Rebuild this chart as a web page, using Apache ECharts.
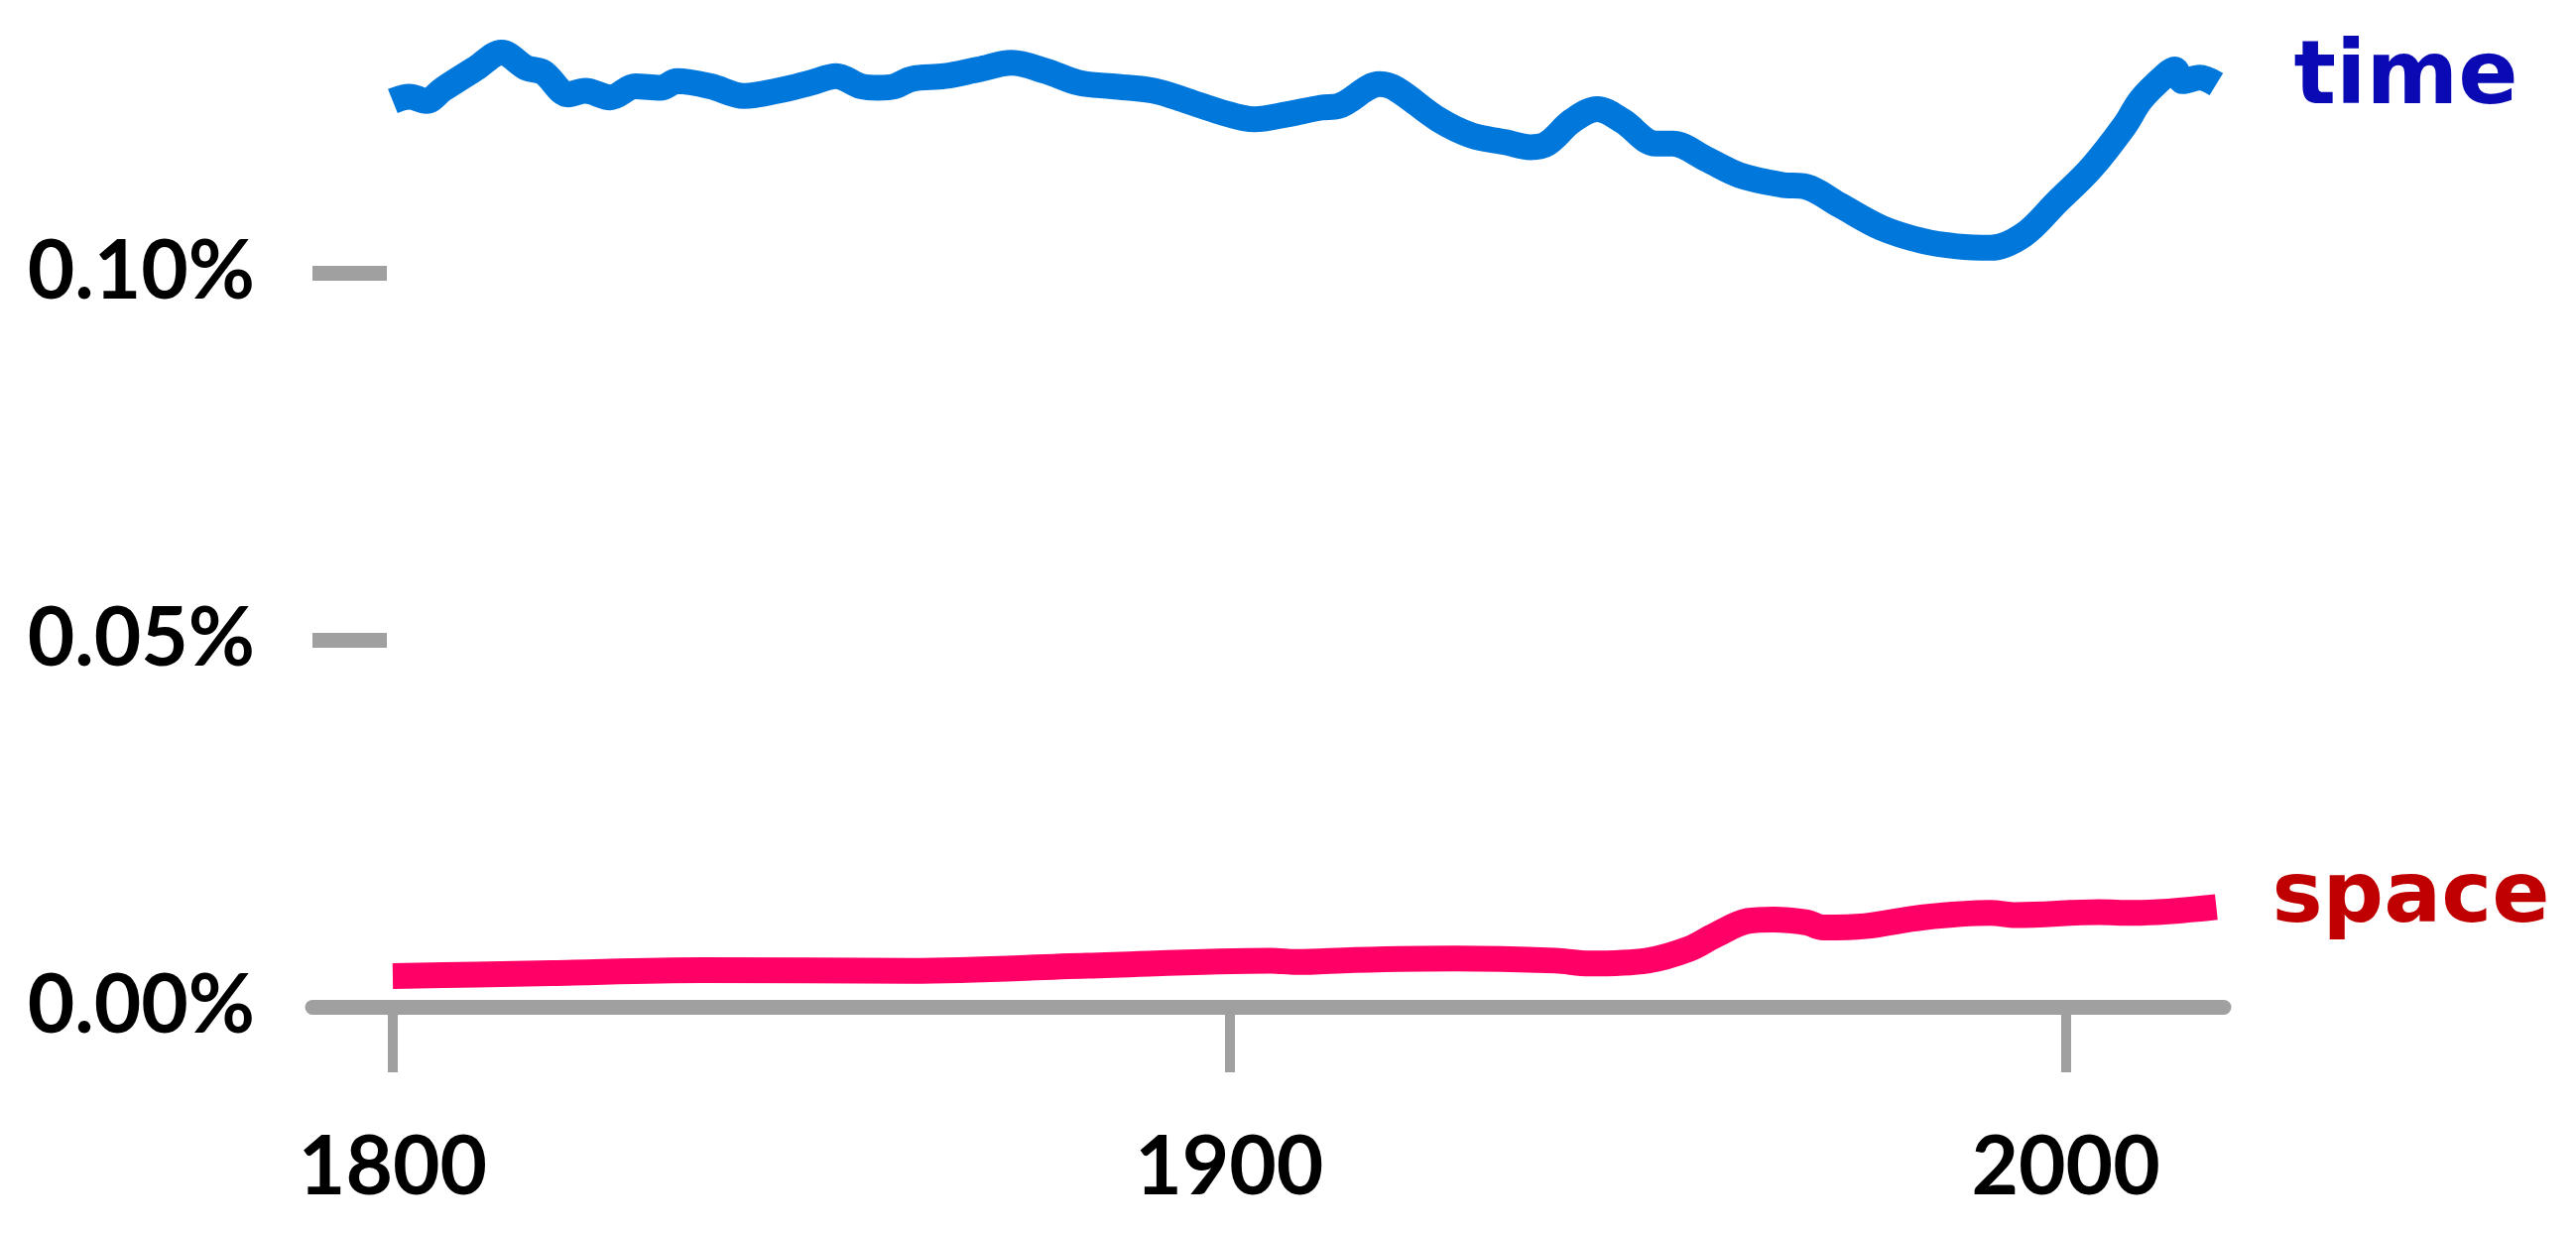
<!DOCTYPE html>
<html>
<head>
<meta charset="utf-8">
<script src="https://cdn.jsdelivr.net/npm/echarts@6/dist/echarts.min.js"></script>
<style>
html,body{margin:0;padding:0;background:#fff;}
#chart{width:2597px;height:1244px;}
</style>
</head>
<body>
<div id="chart"></div>
<script>
// ---- data (percent of words) ----
const timeYears = [1800,1802,1804,1806,1810,1813,1816,1818,1821,1823,1826,1829,1832,1834,1838,1842,1846,1850,1853,1856,1858,1860,1862,1866,1870,1874,1878,1882,1886,1891,1895,1899,1903,1907,1911,1913,1918,1920,1925,1929,1933,1936,1938,1941,1944,1947,1951,1953,1957,1961,1966,1969,1973,1978,1983,1987,1991,1995,1999,2003,2007,2009,2012,2013,2014,2016,2018];
const timeValues = [0.1234,0.1240,0.1234,0.1250,0.1279,0.1300,0.1279,0.1273,0.1243,0.1248,0.1239,0.1254,0.1252,0.1261,0.1254,0.1241,0.1248,0.1259,0.1268,0.1254,0.1252,0.1254,0.1264,0.1268,0.1277,0.1286,0.1275,0.1259,0.1254,0.1248,0.1234,0.1219,0.1209,0.1216,0.1225,0.1227,0.1257,0.1250,0.1209,0.1187,0.1178,0.1171,0.1176,0.1207,0.1223,0.1207,0.1176,0.1176,0.1155,0.1133,0.1120,0.1117,0.1092,0.1061,0.1043,0.1036,0.1034,0.1052,0.1097,0.1142,0.1200,0.1236,0.1270,0.1277,0.1261,0.1266,0.1257];
const spaceYears = [1800,1810,1819,1837,1862,1883,1905,1908,1915,1927,1939,1943,1950,1955,1958,1962,1965,1969,1971,1976,1983,1991,1994,2004,2008,2018];
const spaceValues = [0.0042,0.0044,0.0046,0.0050,0.0049,0.0056,0.0063,0.0061,0.0064,0.0066,0.0063,0.0059,0.0063,0.0079,0.0097,0.0117,0.0119,0.0115,0.0108,0.0110,0.0122,0.0128,0.0125,0.0129,0.0128,0.0136];
const xTickValues = [1800, 1900, 2000];
const yTickValues = [0, 0.05, 0.10];
const seriesNames = ['time', 'space'];

const pair = (xs, ys) => xs.map((x, i) => [x, ys[i]]);

const chart = echarts.init(document.getElementById('chart'), null, {renderer: 'canvas'});
const axisGray = '#a0a0a0';
const labelFont = {fontFamily: 'Lato', fontWeight: 700, fontSize: 82, color: '#000'};

chart.setOption({
  animation: false,
  backgroundColor: '#fff',
  grid: {left: 315, right: 355, top: 16, bottom: 229, containLabel: false},
  xAxis: {
    type: 'value', min: 1790.4, max: 2018.9,
    splitLine: {show: false},
    axisLine: {show: true, lineStyle: {color: axisGray, width: 15}},
    axisTick: {show: true, customValues: xTickValues, length: 66, lineStyle: {color: axisGray, width: 10}},
    axisLabel: Object.assign({show: true, customValues: xTickValues, margin: 122, formatter: v => String(v)}, labelFont)
  },
  yAxis: {
    type: 'value', min: 0, max: 0.135,
    splitLine: {show: false},
    axisLine: {show: false},
    axisTick: {show: true, inside: true, customValues: yTickValues, length: 75, lineStyle: {color: axisGray, width: 15}},
    axisLabel: Object.assign({show: true, customValues: yTickValues, margin: 58, formatter: v => v.toFixed(2) + '%'}, labelFont)
  },
  series: [
    {
      name: seriesNames[0], type: 'line', data: pair(timeYears, timeValues),
      showSymbol: false, smooth: 0.35, clip: false,
      lineStyle: {color: '#0077db', width: 26, cap: 'butt', join: 'round'},
      endLabel: {show: true, formatter: seriesNames[0], offset: [70, -4], color: '#0a0ab4',
        fontFamily: 'DejaVu Sans', fontWeight: 'bold', fontSize: 89}
    },
    {
      name: seriesNames[1], type: 'line', data: pair(spaceYears, spaceValues),
      showSymbol: false, smooth: 0.35, clip: false,
      lineStyle: {color: '#ff0066', width: 26, cap: 'butt', join: 'round'},
      endLabel: {show: true, formatter: seriesNames[1], offset: [48, -8], color: '#c00000',
        fontFamily: 'DejaVu Sans', fontWeight: 'bold', fontSize: 86}
    }
  ]
});
</script>
</body>
</html>
